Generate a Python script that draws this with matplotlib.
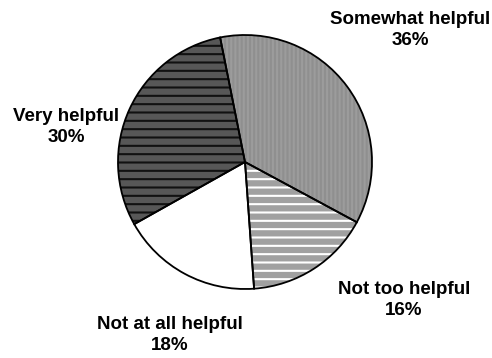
"""
    Kreisdiagramm: Einschaetzung der Hilfe (Anteile in Prozent).
"""

import matplotlib
matplotlib.use('Agg')
import matplotlib.pyplot as plt

# Daten
kategorien = ['Somewhat helpful', 'Not too helpful', 'Not at all helpful',
              'Very helpful']
anteile = [36, 16, 18, 30]

# Stil
flaechenfarben = ['#8f8f8f', '#a0a0a0', '#ffffff', '#575757']
schraffur_farben = ['#9c9c9c', '#ffffff', '#ffffff', '#111111']
schraffuren = ['||||', '--', '', '--']
# Beschriftungspositionen in Pixeln (x, y von oben)
beschriftung_pos = [(410, 30), (404, 300), (170, 335), (66, 127)]


def main():
    plt.rcParams['hatch.linewidth'] = 1.5
    breite, hoehe = 492, 358
    fig = plt.figure(figsize=(breite / 100, hoehe / 100), dpi=100)
    ax = fig.add_axes([0, 0, 1, 1])

    mitte = (245, hoehe - 162)
    radius = 127
    startwinkel = 101.3

    # Flaechen mit Schraffur
    keile, _ = ax.pie(anteile, colors=flaechenfarben, startangle=startwinkel,
                      counterclock=False, center=mitte, radius=radius,
                      frame=True, wedgeprops=dict(linewidth=0))
    for keil, schraffur, sfarbe in zip(keile, schraffuren, schraffur_farben):
        if schraffur:
            keil.set_hatch(schraffur)
            keil.set_edgecolor(sfarbe)

    # Umrisse
    ax.pie(anteile, colors=['none'] * len(anteile), startangle=startwinkel,
           counterclock=False, center=mitte, radius=radius, frame=True,
           wedgeprops=dict(linewidth=1.3, edgecolor='black'))
    ax.set_xlim(0, breite)
    ax.set_ylim(0, hoehe)
    ax.set_aspect('equal')
    ax.axis('off')

    # Beschriftungen
    for name, wert, (x, y) in zip(kategorien, anteile, beschriftung_pos):
        ax.text(x, hoehe - y, '%s\n%d%%' % (name, wert), ha='center',
                va='center', fontsize=13.5, fontweight='bold',
                family='Liberation Sans', linespacing=1.25)

    fig.savefig('out.png', dpi=100)


if __name__ == "__main__":
    main()
